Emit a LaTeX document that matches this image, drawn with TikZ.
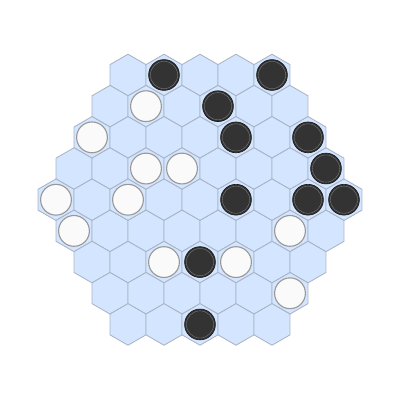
\documentclass[tikz,border=0pt]{standalone}
\usepackage{xcolor}
\usepackage{tikz}
\usetikzlibrary{shapes.geometric}

\definecolor{cellblue}{HTML}{D4E6FF}
\definecolor{celledge}{HTML}{A9B3C4}
\definecolor{stoneblack}{HTML}{333333}
\definecolor{stonewhite}{HTML}{FAFAFA}

\begin{document}
\begin{tikzpicture}[
            x=0.5mm, y=-0.5mm, % one unit per pixel
            cell/.style={regular polygon, regular polygon sides=6, shape border rotate=30, minimum size=20.78mm,
                inner sep=0pt, outer sep=0pt, fill=cellblue, draw=celledge, line width=1.2pt},
            bstone/.style={circle, minimum size=15.4mm, inner sep=0pt, fill=stoneblack, draw=black!90, line width=0.9pt,
                path picture={\draw[black!50, line width=0.5pt] (path picture bounding box.center) circle (6.8mm);}},
            wstone/.style={circle, minimum size=15.4mm, inner sep=0pt, fill=stonewhite, draw=black!40, line width=1.6pt}
        ]
        \useasboundingbox (0,0) rectangle (402,402);
        
        % Board cells, 9 rows
        \foreach \r in {0,...,8} {
            \pgfmathtruncatemacro{\n}{9-abs(\r-4)}
            \pgfmathtruncatemacro{\m}{\n-1}
            \pgfmathsetmacro{\xs}{200-\m*18}
            \pgfmathsetmacro{\yy}{75+\r*31.18}
            \foreach \c in {0,...,\m}
                \node[cell] (h-\r-\c) at ({\xs+36*\c},\yy) {};
        }
        
        % Black stones
        \foreach \r/\c [count=\k] in {0/1,0/4,1/3,2/4,2/6,3/7,4/5,4/7,4/8,6/3,8/2}
            \node[bstone] (b\k) at (h-\r-\c) {};
        
        % White stones
        \foreach \r/\c [count=\k] in {1/1,2/0,3/2,3/3,4/0,4/2,5/0,5/6,6/2,6/4,7/5}
            \node[wstone] (w\k) at (h-\r-\c) {};
        
        \end{tikzpicture}
\end{document}
